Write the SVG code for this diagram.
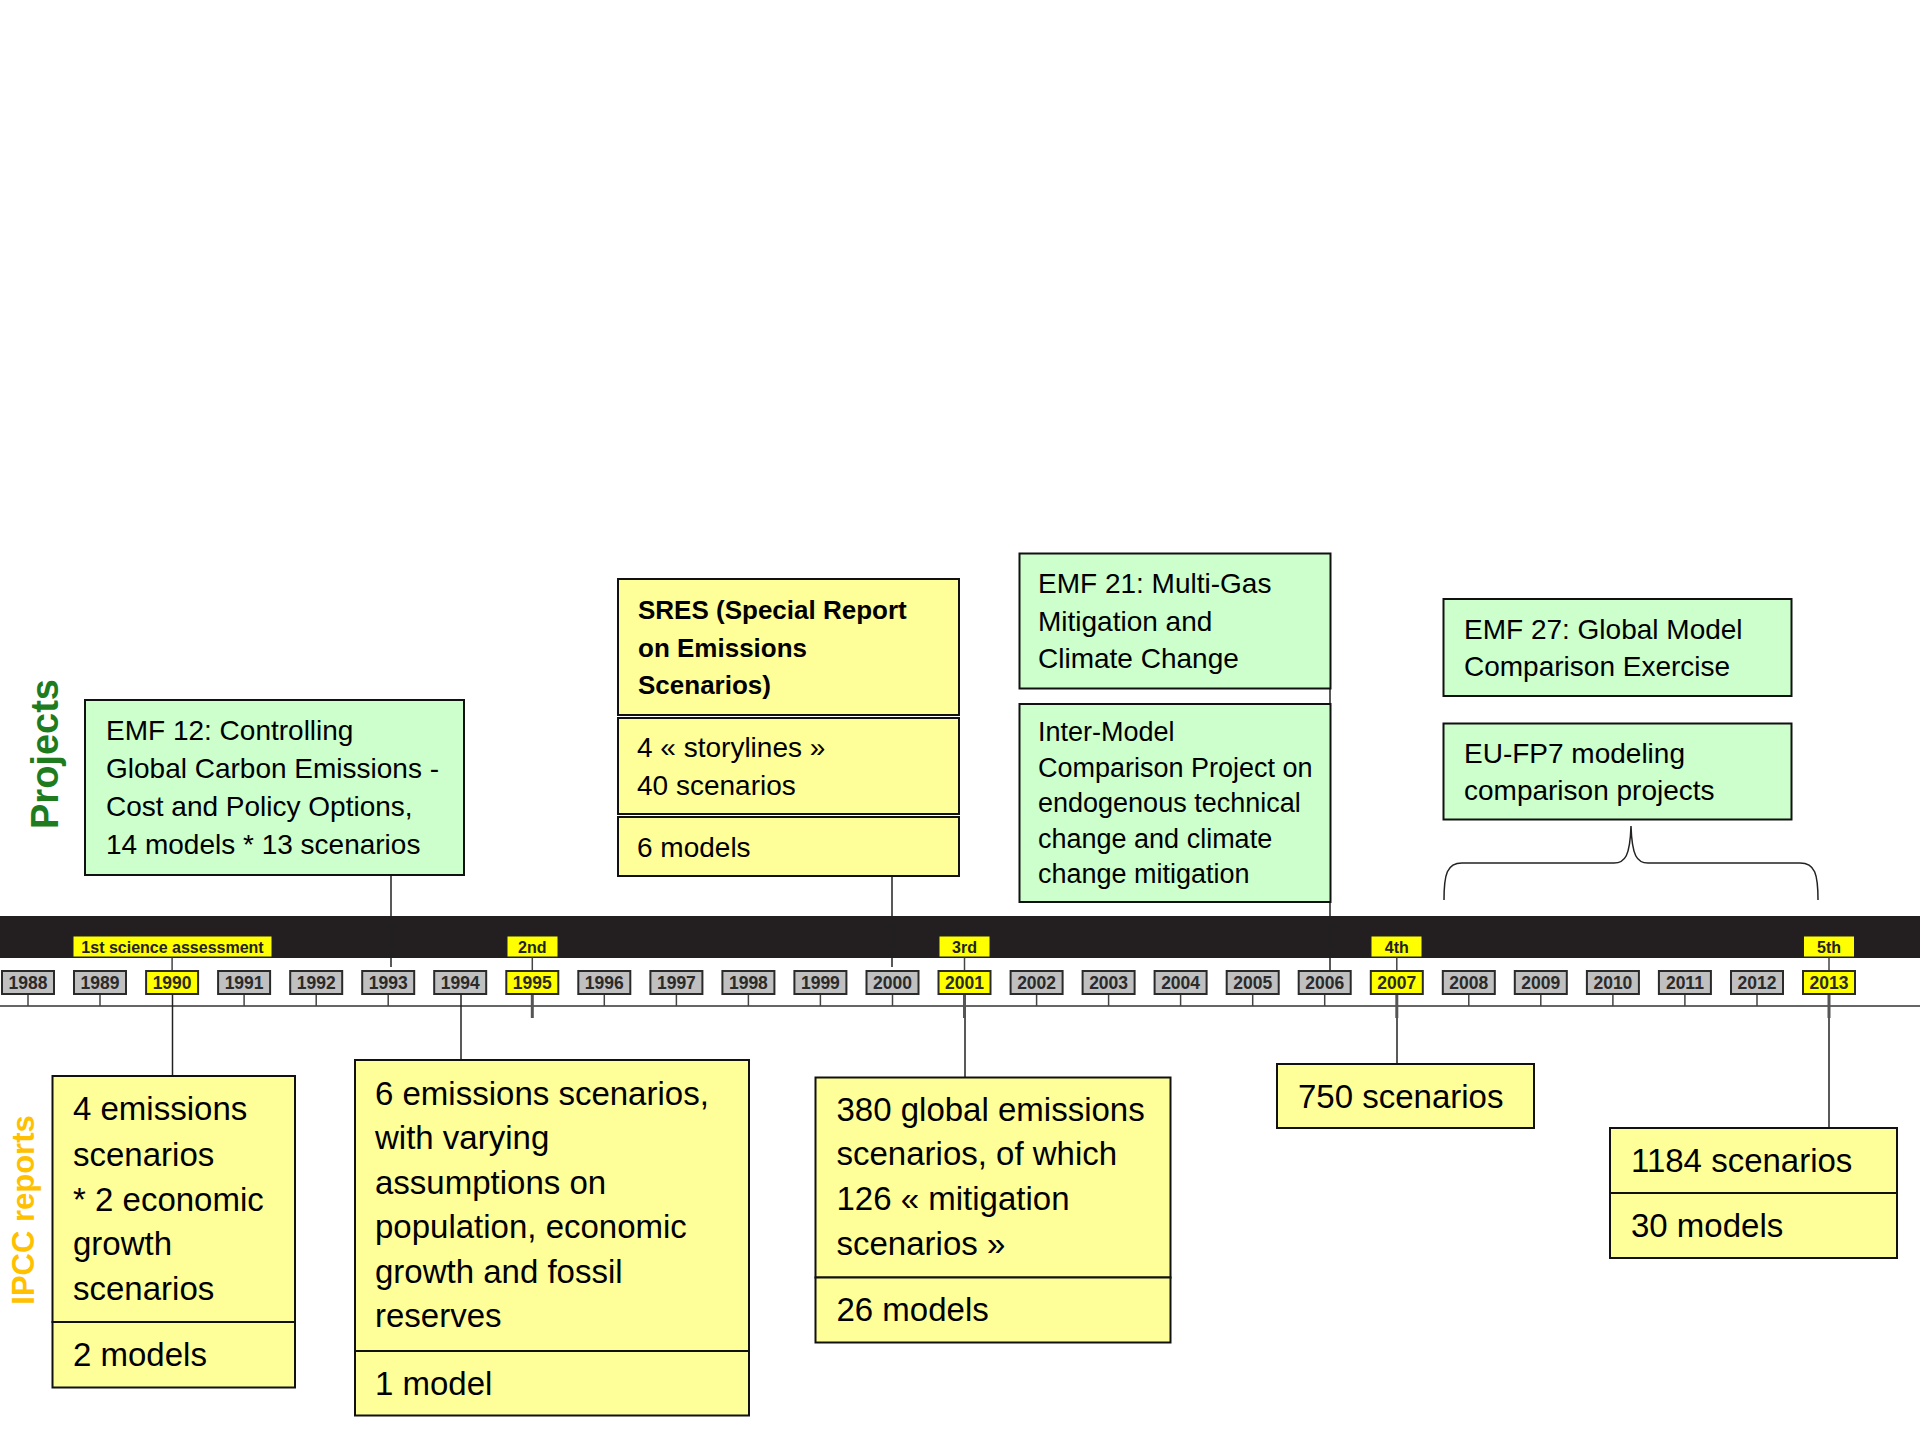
<svg xmlns="http://www.w3.org/2000/svg" width="1920" height="1440" viewBox="0 0 1920 1440">
<style>
.g{fill:#ccffcc;stroke:#111;stroke-width:2}
.y{fill:#ffff99;stroke:#111;stroke-width:2}
.t{font-family:"Liberation Sans",Arial,sans-serif;fill:#000}
.s28{font-size:28px}
.s27{font-size:27px}
.s33{font-size:33px}
.b26{font-size:26px;font-weight:bold}
.yr{fill:#c0c0c0;stroke:#2a2a2a;stroke-width:2}
.yh{fill:#ffff00;stroke:#2a2a2a;stroke-width:2}
.yt{font-family:"Liberation Sans",Arial,sans-serif;font-weight:bold;font-size:17.5px;fill:#2a2a2a;text-anchor:middle}
.lb{fill:#ffff00;stroke:#222;stroke-width:1}
.lt{font-family:"Liberation Sans",Arial,sans-serif;font-weight:bold;font-size:16px;fill:#222;text-anchor:middle}
.c{stroke:#222;stroke-width:1.5;fill:none}
.tk{stroke:#444;stroke-width:1.5}
.tkb{stroke:#555;stroke-width:3}
</style>
<rect width="1920" height="1440" fill="#ffffff"/>

<g id="timeline">
<rect x="0" y="916" width="1920" height="42" fill="#231f20"/>
<line x1="0" y1="1006" x2="1920" y2="1006" stroke="#666" stroke-width="2"/>
<g id="ticks">
<line class="tk" x1="28" y1="994" x2="28" y2="1006"/>
<line class="tk" x1="100" y1="994" x2="100" y2="1006"/>
<line class="tk" x1="244.1" y1="994" x2="244.1" y2="1006"/>
<line class="tk" x1="316.2" y1="994" x2="316.2" y2="1006"/>
<line class="tk" x1="388.2" y1="994" x2="388.2" y2="1006"/>
<line class="tk" x1="604.3" y1="994" x2="604.3" y2="1006"/>
<line class="tk" x1="676.4" y1="994" x2="676.4" y2="1006"/>
<line class="tk" x1="748.4" y1="994" x2="748.4" y2="1006"/>
<line class="tk" x1="820.4" y1="994" x2="820.4" y2="1006"/>
<line class="tk" x1="892.5" y1="994" x2="892.5" y2="1006"/>
<line class="tk" x1="1036.6" y1="994" x2="1036.6" y2="1006"/>
<line class="tk" x1="1108.6" y1="994" x2="1108.6" y2="1006"/>
<line class="tk" x1="1180.6" y1="994" x2="1180.6" y2="1006"/>
<line class="tk" x1="1252.7" y1="994" x2="1252.7" y2="1006"/>
<line class="tk" x1="1324.7" y1="994" x2="1324.7" y2="1006"/>
<line class="tk" x1="1468.8" y1="994" x2="1468.8" y2="1006"/>
<line class="tk" x1="1540.8" y1="994" x2="1540.8" y2="1006"/>
<line class="tk" x1="1612.9" y1="994" x2="1612.9" y2="1006"/>
<line class="tk" x1="1684.9" y1="994" x2="1684.9" y2="1006"/>
<line class="tk" x1="1757" y1="994" x2="1757" y2="1006"/>
<line class="tkb" x1="532.3" y1="994" x2="532.3" y2="1018"/>
<line class="tkb" x1="964.5" y1="994" x2="964.5" y2="1018"/>
<line class="tkb" x1="1396.8" y1="994" x2="1396.8" y2="1018"/>
<line class="tkb" x1="1829" y1="994" x2="1829" y2="1018"/>
<line class="tk" x1="172.1" y1="957" x2="172.1" y2="971"/>
<line class="tk" x1="532.3" y1="957" x2="532.3" y2="971"/>
<line class="tk" x1="964.5" y1="957" x2="964.5" y2="971"/>
<line class="tk" x1="1396.8" y1="957" x2="1396.8" y2="971"/>
<line class="tk" x1="1829" y1="957" x2="1829" y2="971"/>
</g>
<g id="years">
<rect class="yr" x="2" y="971" width="52" height="23"/><text class="yt" x="28" y="989">1988</text>
<rect class="yr" x="74" y="971" width="52" height="23"/><text class="yt" x="100" y="989">1989</text>
<rect class="yh" x="146.1" y="971" width="52" height="23"/><text class="yt" x="172.1" y="989">1990</text>
<rect class="yr" x="218.1" y="971" width="52" height="23"/><text class="yt" x="244.1" y="989">1991</text>
<rect class="yr" x="290.2" y="971" width="52" height="23"/><text class="yt" x="316.2" y="989">1992</text>
<rect class="yr" x="362.2" y="971" width="52" height="23"/><text class="yt" x="388.2" y="989">1993</text>
<rect class="yr" x="434.2" y="971" width="52" height="23"/><text class="yt" x="460.2" y="989">1994</text>
<rect class="yh" x="506.3" y="971" width="52" height="23"/><text class="yt" x="532.3" y="989">1995</text>
<rect class="yr" x="578.3" y="971" width="52" height="23"/><text class="yt" x="604.3" y="989">1996</text>
<rect class="yr" x="650.4" y="971" width="52" height="23"/><text class="yt" x="676.4" y="989">1997</text>
<rect class="yr" x="722.4" y="971" width="52" height="23"/><text class="yt" x="748.4" y="989">1998</text>
<rect class="yr" x="794.4" y="971" width="52" height="23"/><text class="yt" x="820.4" y="989">1999</text>
<rect class="yr" x="866.5" y="971" width="52" height="23"/><text class="yt" x="892.5" y="989">2000</text>
<rect class="yh" x="938.5" y="971" width="52" height="23"/><text class="yt" x="964.5" y="989">2001</text>
<rect class="yr" x="1010.6" y="971" width="52" height="23"/><text class="yt" x="1036.6" y="989">2002</text>
<rect class="yr" x="1082.6" y="971" width="52" height="23"/><text class="yt" x="1108.6" y="989">2003</text>
<rect class="yr" x="1154.6" y="971" width="52" height="23"/><text class="yt" x="1180.6" y="989">2004</text>
<rect class="yr" x="1226.7" y="971" width="52" height="23"/><text class="yt" x="1252.7" y="989">2005</text>
<rect class="yr" x="1298.7" y="971" width="52" height="23"/><text class="yt" x="1324.7" y="989">2006</text>
<rect class="yh" x="1370.8" y="971" width="52" height="23"/><text class="yt" x="1396.8" y="989">2007</text>
<rect class="yr" x="1442.8" y="971" width="52" height="23"/><text class="yt" x="1468.8" y="989">2008</text>
<rect class="yr" x="1514.8" y="971" width="52" height="23"/><text class="yt" x="1540.8" y="989">2009</text>
<rect class="yr" x="1586.9" y="971" width="52" height="23"/><text class="yt" x="1612.9" y="989">2010</text>
<rect class="yr" x="1658.9" y="971" width="52" height="23"/><text class="yt" x="1684.9" y="989">2011</text>
<rect class="yr" x="1731" y="971" width="52" height="23"/><text class="yt" x="1757" y="989">2012</text>
<rect class="yh" x="1803" y="971" width="52" height="23"/><text class="yt" x="1829" y="989">2013</text>
</g>
<g id="assessments">
<rect class="lb" x="73" y="936" width="199" height="21"/><text class="lt" x="172.5" y="952.5">1st science assessment</text>
<rect class="lb" x="507" y="936" width="51" height="21"/><text class="lt" x="532.3" y="952.5">2nd</text>
<rect class="lb" x="939" y="936" width="51" height="21"/><text class="lt" x="964.5" y="952.5">3rd</text>
<rect class="lb" x="1371" y="936" width="51" height="21"/><text class="lt" x="1396.8" y="952.5">4th</text>
<rect class="lb" x="1803.5" y="936" width="51" height="21"/><text class="lt" x="1829" y="952.5">5th</text>
</g>
</g>

<g id="connectors">
<line class="c" x1="391" y1="875" x2="391" y2="967"/>
<line class="c" x1="892" y1="871" x2="892" y2="967"/>
<line class="c" x1="1330" y1="688" x2="1330" y2="970"/>
<line class="c" x1="172.5" y1="994" x2="172.5" y2="1076"/>
<line class="c" x1="461" y1="994" x2="461" y2="1060"/>
<line class="c" x1="965" y1="1018" x2="965" y2="1077"/>
<line class="c" x1="1397" y1="1018" x2="1397" y2="1064"/>
<line class="c" x1="1829" y1="1018" x2="1829" y2="1128"/>
<path class="c" d="M1444,900 C1444,874 1447,863 1462,863 L1614,863 C1625,863 1630,856 1631,826 C1632,856 1637,863 1648,863 L1800,863 C1815,863 1818,874 1818,900"/>
</g>

<g id="label-projects">
<text class="t" transform="translate(58,754) rotate(-90)" text-anchor="middle" style="font-size:38px;font-weight:bold;fill:#1e7b1e">Projects</text>
</g>
<g id="label-ipcc">
<text class="t" transform="translate(34,1210) rotate(-90)" text-anchor="middle" style="font-size:31px;font-weight:bold;fill:#ffc000">IPCC reports</text>
</g>

<g id="emf12">
<rect class="g" x="85" y="700" width="379" height="175"/>
<text class="t s28"><tspan x="106" y="740">EMF 12: Controlling</tspan><tspan x="106" y="778">Global Carbon Emissions -</tspan><tspan x="106" y="816">Cost and Policy Options,</tspan><tspan x="106" y="854">14 models * 13 scenarios</tspan></text>
</g>

<g id="sres">
<rect class="y" x="618" y="579" width="341" height="136"/>
<text class="t b26"><tspan x="638" y="619">SRES (Special Report</tspan><tspan x="638" y="656.5">on Emissions</tspan><tspan x="638" y="694">Scenarios)</tspan></text>
<rect class="y" x="618" y="718" width="341" height="96"/>
<text class="t s28"><tspan x="637" y="756.5">4 « storylines »</tspan><tspan x="637" y="795">40 scenarios</tspan></text>
<rect class="y" x="618" y="817" width="341" height="59"/>
<text class="t s28" x="637" y="856.5">6 models</text>
</g>

<g id="emf21">
<rect class="g" x="1019.5" y="553.5" width="311" height="135"/>
<text class="t s28"><tspan x="1038" y="593">EMF 21: Multi-Gas</tspan><tspan x="1038" y="630.5">Mitigation and</tspan><tspan x="1038" y="668">Climate Change</tspan></text>
</g>

<g id="intermodel">
<rect class="g" x="1019.5" y="704" width="311" height="198"/>
<text class="t s27"><tspan x="1038" y="741">Inter-Model</tspan><tspan x="1038" y="776.5">Comparison Project on</tspan><tspan x="1038" y="812">endogenous technical</tspan><tspan x="1038" y="847.5">change and climate</tspan><tspan x="1038" y="883">change mitigation</tspan></text>
</g>

<g id="emf27">
<rect class="g" x="1443.5" y="599" width="348" height="97"/>
<text class="t s28"><tspan x="1464" y="639">EMF 27: Global Model</tspan><tspan x="1464" y="676">Comparison Exercise</tspan></text>
</g>

<g id="eufp7">
<rect class="g" x="1443.5" y="723.5" width="348" height="96"/>
<text class="t s28"><tspan x="1464" y="763">EU-FP7 modeling</tspan><tspan x="1464" y="800">comparison projects</tspan></text>
</g>

<g id="ipcc1">
<rect class="y" x="52.5" y="1076" width="242.5" height="246"/>
<text class="t s33"><tspan x="73" y="1120">4 emissions</tspan><tspan x="73" y="1165.5">scenarios</tspan><tspan x="73" y="1210.5">* 2 economic</tspan><tspan x="73" y="1255">growth</tspan><tspan x="73" y="1299.5">scenarios</tspan></text>
<rect class="y" x="52.5" y="1322" width="242.5" height="65.5"/>
<text class="t s33" x="73" y="1366">2 models</text>
</g>

<g id="ipcc2">
<rect class="y" x="355" y="1060" width="394" height="291"/>
<text class="t s33"><tspan x="375" y="1105">6 emissions scenarios,</tspan><tspan x="375" y="1148.5">with varying</tspan><tspan x="375" y="1193.5">assumptions on</tspan><tspan x="375" y="1238">population, economic</tspan><tspan x="375" y="1283">growth and fossil</tspan><tspan x="375" y="1327">reserves</tspan></text>
<rect class="y" x="355" y="1351" width="394" height="64.5"/>
<text class="t s33" x="375" y="1395">1 model</text>
</g>

<g id="ipcc3">
<rect class="y" x="815.5" y="1077.5" width="355" height="200"/>
<text class="t s33"><tspan x="836.5" y="1121">380 global emissions</tspan><tspan x="836.5" y="1164.5">scenarios, of which</tspan><tspan x="836.5" y="1210">126 « mitigation</tspan><tspan x="836.5" y="1254.5">scenarios »</tspan></text>
<rect class="y" x="815.5" y="1277.5" width="355" height="65"/>
<text class="t s33" x="836.5" y="1321">26 models</text>
</g>

<g id="ipcc4">
<rect class="y" x="1277" y="1064" width="257" height="64"/>
<text class="t s33" x="1298" y="1108">750 scenarios</text>
</g>

<g id="ipcc5">
<rect class="y" x="1610" y="1128" width="287" height="65"/>
<text class="t s33" x="1631" y="1171.5">1184 scenarios</text>
<rect class="y" x="1610" y="1193" width="287" height="65"/>
<text class="t s33" x="1631" y="1237">30 models</text>
</g>
</svg>
